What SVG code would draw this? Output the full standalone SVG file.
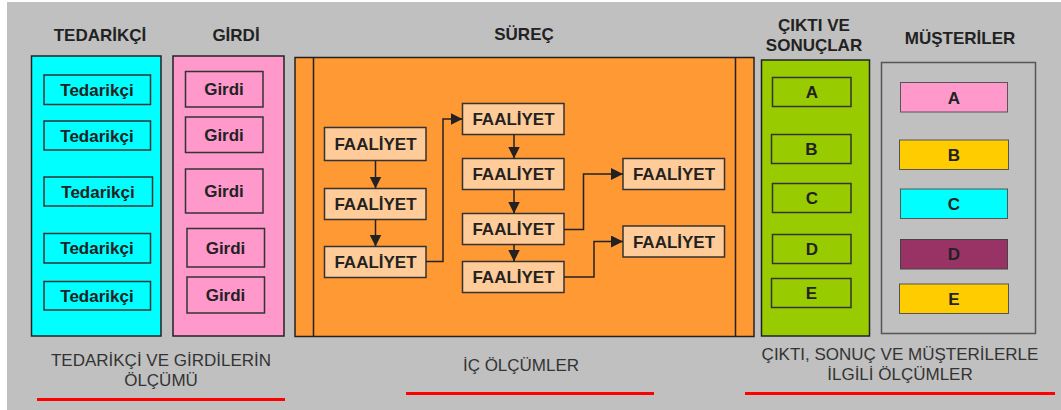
<svg xmlns="http://www.w3.org/2000/svg" width="1061" height="410" viewBox="0 0 1061 410">
<defs>
<style>
.hd{font-family:"Liberation Sans",Arial,sans-serif;font-weight:bold;font-size:17px;fill:#222;text-anchor:middle}
.bt{font-family:"Liberation Sans",Arial,sans-serif;font-weight:bold;font-size:17px;fill:#222;text-anchor:middle}
.ft{font-family:"Liberation Sans",Arial,sans-serif;font-size:17px;fill:#333;text-anchor:middle}
.pn{stroke:#222;stroke-width:1.5}
.bx{stroke:#333;stroke-width:1.5}
.fa{fill:#ffcc99;stroke:#333;stroke-width:1.5}
.cn{fill:none;stroke:#222;stroke-width:1.5}
.rl{stroke:#ff0000;stroke-width:3}
</style>
<marker id="ah" markerUnits="userSpaceOnUse" markerWidth="12" markerHeight="12" refX="12" refY="6" orient="auto">
<path d="M0,0 L12,6 L0,12 z" fill="#222"/>
</marker>
</defs>
<rect x="0" y="0" width="1061" height="410" fill="#ffffff"/>
<rect x="7" y="2" width="1054" height="408" fill="#c0c0c0"/>

<g id="tedarikci">
<text class="hd" x="100" y="41">TEDARİKÇİ</text>
<rect class="pn" x="31.5" y="56" width="129.5" height="280" fill="#00ffff"/>
<rect class="bx" x="44" y="75" width="106.5" height="29.5" fill="#00ffff"/>
<text class="bt" x="97" y="96">Tedarikçi</text>
<rect class="bx" x="44" y="121" width="106.5" height="29" fill="#00ffff"/>
<text class="bt" x="97" y="141.5">Tedarikçi</text>
<rect class="bx" x="44" y="177" width="108.5" height="29" fill="#00ffff"/>
<text class="bt" x="98" y="197.5">Tedarikçi</text>
<rect class="bx" x="44" y="233.5" width="106.5" height="29.5" fill="#00ffff"/>
<text class="bt" x="97" y="254">Tedarikçi</text>
<rect class="bx" x="44" y="281.5" width="106.5" height="28.5" fill="#00ffff"/>
<text class="bt" x="97" y="302">Tedarikçi</text>
</g>

<g id="girdi">
<text class="hd" x="236" y="41">GİRDİ</text>
<rect class="pn" x="173" y="56" width="111" height="280" fill="#ff99cc"/>
<rect class="bx" x="185.5" y="71.5" width="77.5" height="35.5" fill="#ff99cc"/>
<text class="bt" x="224" y="95">Girdi</text>
<rect class="bx" x="185.5" y="117" width="77.5" height="35.5" fill="#ff99cc"/>
<text class="bt" x="224" y="140.5">Girdi</text>
<rect class="bx" x="185.5" y="169" width="77.5" height="44" fill="#ff99cc"/>
<text class="bt" x="224" y="197">Girdi</text>
<rect class="bx" x="187" y="228.5" width="77.5" height="38.5" fill="#ff99cc"/>
<text class="bt" x="225.5" y="253.5">Girdi</text>
<rect class="bx" x="187" y="277" width="77.5" height="36" fill="#ff99cc"/>
<text class="bt" x="225.5" y="300.5">Girdi</text>
</g>

<g id="surec">
<text class="hd" x="524" y="40">SÜREÇ</text>
<rect class="pn" x="295" y="57.5" width="459" height="279" fill="#ff9933"/>
<line class="pn" x1="313.5" y1="57.5" x2="313.5" y2="336.5"/>
<line class="pn" x1="735.5" y1="57.5" x2="735.5" y2="336.5"/>
</g>

<g id="faaliyet1"><rect class="fa" x="324.5" y="127.5" width="101.5" height="33"/><text class="bt" x="375.5" y="150">FAALİYET</text></g>
<g id="faaliyet2"><rect class="fa" x="324.5" y="188.5" width="101.5" height="31"/><text class="bt" x="375.5" y="210">FAALİYET</text></g>
<g id="faaliyet3"><rect class="fa" x="324.5" y="246.5" width="101.5" height="31"/><text class="bt" x="375.5" y="268">FAALİYET</text></g>
<g id="faaliyet4"><rect class="fa" x="462.5" y="103.5" width="101.5" height="31"/><text class="bt" x="513.5" y="125">FAALİYET</text></g>
<g id="faaliyet5"><rect class="fa" x="462.5" y="158.5" width="101.5" height="31"/><text class="bt" x="513.5" y="180">FAALİYET</text></g>
<g id="faaliyet6"><rect class="fa" x="462.5" y="213.5" width="101.5" height="31"/><text class="bt" x="513.5" y="235">FAALİYET</text></g>
<g id="faaliyet7"><rect class="fa" x="462.5" y="261.5" width="101.5" height="31"/><text class="bt" x="513.5" y="283">FAALİYET</text></g>
<g id="faaliyet8"><rect class="fa" x="623" y="158.5" width="101.5" height="31"/><text class="bt" x="674" y="180">FAALİYET</text></g>
<g id="faaliyet9"><rect class="fa" x="623" y="226" width="101.5" height="31"/><text class="bt" x="674" y="248">FAALİYET</text></g>

<g id="connectors">
<line class="cn" x1="375.5" y1="160.5" x2="375.5" y2="188.5" marker-end="url(#ah)"/>
<line class="cn" x1="375.5" y1="219.5" x2="375.5" y2="246.5" marker-end="url(#ah)"/>
<line class="cn" x1="514" y1="134.5" x2="514" y2="158.5" marker-end="url(#ah)"/>
<line class="cn" x1="514" y1="189.5" x2="514" y2="213.5" marker-end="url(#ah)"/>
<line class="cn" x1="514" y1="244.5" x2="514" y2="261.5" marker-end="url(#ah)"/>
<polyline class="cn" points="426,261.5 443,261.5 443,119 462.5,119" marker-end="url(#ah)"/>
<polyline class="cn" points="564,229.5 583.5,229.5 583.5,174 623,174" marker-end="url(#ah)"/>
<polyline class="cn" points="564,277 594,277 594,241.5 623,241.5" marker-end="url(#ah)"/>
</g>

<g id="cikti">
<text class="hd" x="814" y="31">ÇIKTI VE</text>
<text class="hd" x="814" y="51">SONUÇLAR</text>
<rect class="pn" x="761.5" y="60" width="108" height="276" fill="#99cc00"/>
<rect class="bx" x="772.5" y="77.5" width="78.5" height="29" fill="#99cc00"/>
<text class="bt" x="812" y="98">A</text>
<rect class="bx" x="771.5" y="134.5" width="79.5" height="29" fill="#99cc00"/>
<text class="bt" x="811.5" y="155">B</text>
<rect class="bx" x="772.5" y="183.5" width="78.5" height="29" fill="#99cc00"/>
<text class="bt" x="812" y="204">C</text>
<rect class="bx" x="772.5" y="234.5" width="78.5" height="29" fill="#99cc00"/>
<text class="bt" x="812" y="255">D</text>
<rect class="bx" x="771.5" y="278.5" width="79.5" height="29" fill="#99cc00"/>
<text class="bt" x="811.5" y="299">E</text>
</g>

<g id="musteriler">
<text class="hd" x="960" y="44">MÜŞTERİLER</text>
<rect x="881.5" y="62.5" width="154" height="271" fill="#c0c0c0" stroke="#555" stroke-width="1.5"/>
<rect x="900.5" y="82.5" width="107" height="29.5" fill="#ff99cc" stroke="#555" stroke-width="1"/>
<text class="bt" x="954" y="103.5">A</text>
<rect x="899.5" y="140" width="109" height="29.5" fill="#ffcc00" stroke="#555" stroke-width="1"/>
<text class="bt" x="954" y="161">B</text>
<rect x="900.5" y="189" width="107" height="29.5" fill="#00ffff" stroke="#555" stroke-width="1"/>
<text class="bt" x="954" y="210">C</text>
<rect x="900.5" y="239.5" width="107" height="29.5" fill="#993366" stroke="#444" stroke-width="1"/>
<text class="bt" x="954" y="260">D</text>
<rect x="899.5" y="284" width="109" height="29.5" fill="#ffcc00" stroke="#555" stroke-width="1"/>
<text class="bt" x="954" y="305">E</text>
</g>

<g id="olcumler">
<text class="ft" x="161" y="366">TEDARİKÇİ VE GİRDİLERİN</text>
<text class="ft" x="161" y="386">ÖLÇÜMÜ</text>
<line class="rl" x1="37" y1="399.5" x2="285" y2="399.5"/>
<text class="ft" x="521" y="371">İÇ ÖLÇÜMLER</text>
<line class="rl" x1="406" y1="393.5" x2="654" y2="393.5"/>
<text class="ft" x="900" y="360">ÇIKTI, SONUÇ VE MÜŞTERİLERLE</text>
<text class="ft" x="900" y="380">İLGİLİ ÖLÇÜMLER</text>
<line class="rl" x1="745" y1="393.5" x2="1055" y2="393.5"/>
</g>
</svg>
